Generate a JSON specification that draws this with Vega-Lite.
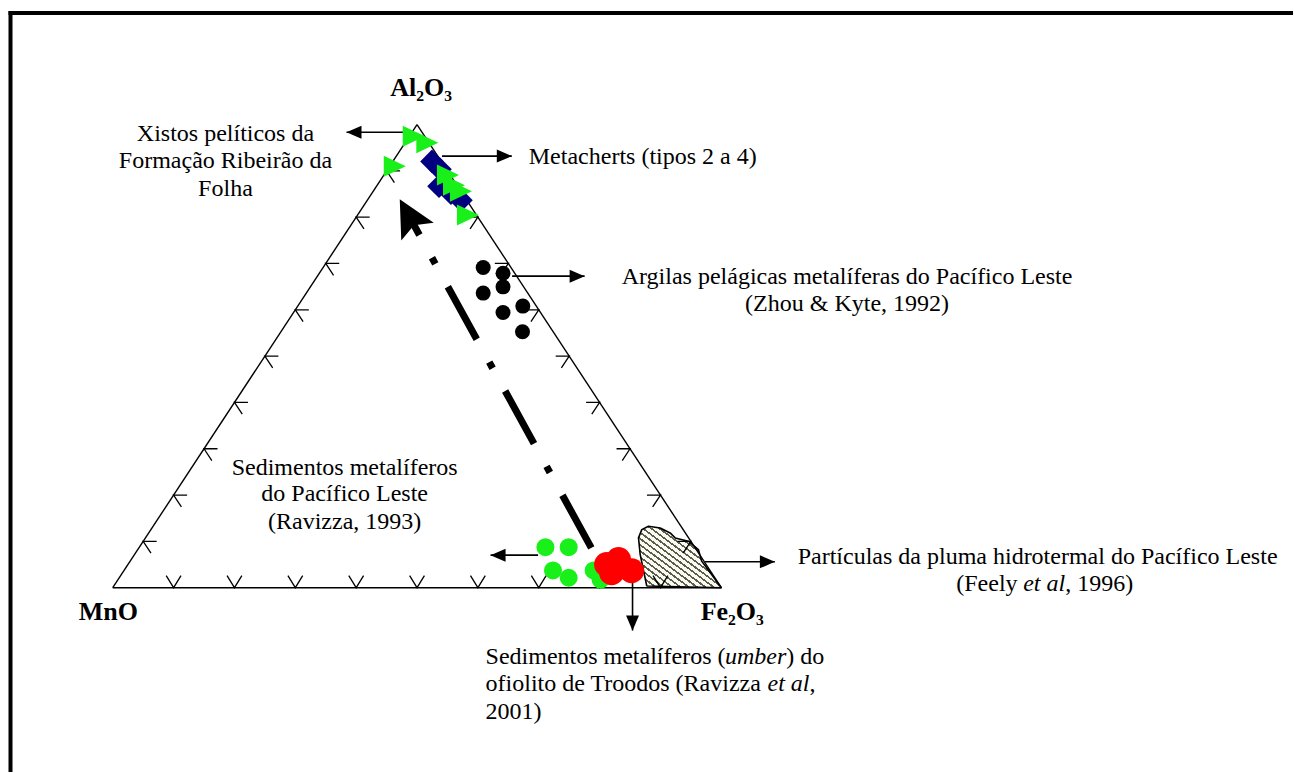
{
  "$schema": "https://vega.github.io/schema/vega-lite/v6.json",
  "width": 1294,
  "height": 773,
  "autosize": {"type": "fit", "contains": "padding"},
  "padding": 0,
  "background": "white",
  "config": {"view": {"stroke": null}},
  "datasets": {
    "frame": [
      {"x": -16.8, "y": 124.09, "x2": 193.607, "y2": 124.09},
      {"x": -16.8, "y": 124.09, "x2": -16.8, "y2": -39.355}
    ],
    "edges": [
      {"x": 0, "y": 0, "x2": 100, "y2": 0},
      {"x": 100, "y": 0, "x2": 50, "y2": 100},
      {"x": 50, "y": 100, "x2": 0, "y2": 0}
    ],
    "ticks": [
      {"x": 10, "y": 0, "side": "b"}, {"x": 20, "y": 0, "side": "b"}, {"x": 30, "y": 0, "side": "b"},
      {"x": 40, "y": 0, "side": "b"}, {"x": 50, "y": 0, "side": "b"}, {"x": 60, "y": 0, "side": "b"},
      {"x": 70, "y": 0, "side": "b"}, {"x": 80, "y": 0, "side": "b"}, {"x": 90, "y": 0, "side": "b"},
      {"x": 5, "y": 10, "side": "l"}, {"x": 10, "y": 20, "side": "l"}, {"x": 15, "y": 30, "side": "l"},
      {"x": 20, "y": 40, "side": "l"}, {"x": 25, "y": 50, "side": "l"}, {"x": 30, "y": 60, "side": "l"},
      {"x": 35, "y": 70, "side": "l"}, {"x": 40, "y": 80, "side": "l"}, {"x": 45, "y": 90, "side": "l"},
      {"x": 95, "y": 10, "side": "r"}, {"x": 90, "y": 20, "side": "r"}, {"x": 85, "y": 30, "side": "r"},
      {"x": 80, "y": 40, "side": "r"}, {"x": 75, "y": 50, "side": "r"}, {"x": 70, "y": 60, "side": "r"},
      {"x": 65, "y": 70, "side": "r"}, {"x": 60, "y": 80, "side": "r"}, {"x": 55, "y": 90, "side": "r"}
    ],
    "hatch": [
      {"i": 0, "x": 87.75, "y": 0.37}, {"i": 1, "x": 86.67, "y": 7.16}, {"i": 2, "x": 86.39, "y": 10.75},
      {"i": 3, "x": 86.93, "y": 12.54}, {"i": 4, "x": 88.03, "y": 13.27}, {"i": 5, "x": 89.95, "y": 12.9},
      {"i": 6, "x": 91.59, "y": 11.83}, {"i": 7, "x": 92.41, "y": 10.75}, {"i": 8, "x": 94.59, "y": 10.04},
      {"i": 9, "x": 96.23, "y": 8.24}, {"i": 10, "x": 96.77, "y": 5.74}, {"i": 11, "x": 97.59, "y": 4.3},
      {"i": 12, "x": 100, "y": 0}, {"i": 13, "x": 87.75, "y": 0.37}
    ],
    "trend": [{"x": 78.64, "y": 8.6, "x2": 49.1, "y2": 79.25}],
    "trendhead": [{"x": 47.16, "y": 83.87}],
    "arrows": [
      {"x": 48.2, "y": 98.34, "x2": 38.41, "y2": 98.34, "dir": "left"},
      {"x": 54.1, "y": 93.18, "x2": 65.57, "y2": 93.18, "dir": "right"},
      {"x": 65.62, "y": 67.26, "x2": 77.54, "y2": 67.26, "dir": "right"},
      {"x": 69.89, "y": 7.03, "x2": 62.08, "y2": 7.03, "dir": "left"},
      {"x": 97.33, "y": 5.59, "x2": 108.8, "y2": 5.59, "dir": "right"},
      {"x": 85.41, "y": 1.44, "x2": 85.41, "y2": -9.25, "dir": "down"}
    ],
    "black": [
      {"x": 60.87, "y": 69.14}, {"x": 64.13, "y": 67.89}, {"x": 60.87, "y": 63.61},
      {"x": 64.13, "y": 64.95}, {"x": 64.13, "y": 59.42}, {"x": 67.38, "y": 60.8},
      {"x": 67.33, "y": 55.27}
    ],
    "navy": [
      {"x": 52.46, "y": 92.04}, {"x": 53.77, "y": 90.32}, {"x": 53.61, "y": 86.67},
      {"x": 55.57, "y": 85.16}, {"x": 57.21, "y": 83.66}
    ],
    "greentri": [
      {"x": 49.46, "y": 97.48}, {"x": 51.69, "y": 96.06}, {"x": 46.34, "y": 90.97},
      {"x": 55.08, "y": 89.1}, {"x": 56.07, "y": 86.88}, {"x": 57.21, "y": 85.59},
      {"x": 58.36, "y": 80.49}
    ],
    "greencirc": [
      {"x": 71.1, "y": 8.75}, {"x": 74.92, "y": 8.75}, {"x": 72.34, "y": 3.72},
      {"x": 74.92, "y": 2.15}, {"x": 79.02, "y": 3.72}, {"x": 80.16, "y": 1.72}
    ],
    "red": [
      {"x": 81.15, "y": 5.01}, {"x": 83.11, "y": 6.09}, {"x": 85.25, "y": 3.66}, {"x": 81.97, "y": 3.23}
    ],
    "boldlabels": [
      {"x": 50.66, "y": 106.24, "text": "Al₂O₃"},
      {"x": -0.74, "y": -6.88, "text": "MnO"},
      {"x": 101.8, "y": -6.88, "text": "Fe₂O₃"}
    ],
    "centertext": [
      {"x": 18.52, "y": 96.41, "text": "Xistos pelíticos da"},
      {"x": 18.52, "y": 90.54, "text": "Formação Ribeirão da"},
      {"x": 18.52, "y": 84.67, "text": "Folha"},
      {"x": 120.66, "y": 65.59, "text": "Argilas pelágicas metalíferas do Pacífico Leste"},
      {"x": 120.66, "y": 59.78, "text": "(Zhou & Kyte, 1992)"},
      {"x": 38.11, "y": 24.37, "text": "Sedimentos metalíferos"},
      {"x": 38.11, "y": 18.65, "text": "do Pacífico Leste"},
      {"x": 38.11, "y": 12.75, "text": "(Ravizza, 1993)"},
      {"x": 151.97, "y": 5.16, "text": "Partículas da pluma hidrotermal do Pacífico Leste"}
    ],
    "lefttext": [
      {"x": 68.36, "y": 91.4, "text": "Metacherts (tipos 2 a 4)"},
      {"x": 138.6, "y": -0.65, "text": "(Feely"},
      {"x": 156.5, "y": -0.65, "text": ", 1996)"},
      {"x": 61.26, "y": -16.56, "text": "Sedimentos metalíferos ("},
      {"x": 110.66, "y": -16.56, "text": ") do"},
      {"x": 61.26, "y": -22.37, "text": "ofiolito de Troodos (Ravizza"},
      {"x": 114.48, "y": -22.37, "text": ","},
      {"x": 61.26, "y": -28.32, "text": "2001)"}
    ],
    "italictext": [
      {"x": 100.61, "y": -16.56, "text": "umber"},
      {"x": 149.6, "y": -0.65, "text": "et al"},
      {"x": 107.59, "y": -22.37, "text": "et al"}
    ]
  },
  "encoding": {
    "x": {"field": "x", "type": "quantitative", "scale": {"domain": [-18.525, 193.607], "nice": false, "zero": false}, "axis": null},
    "y": {"field": "y", "type": "quantitative", "scale": {"domain": [-39.355, 126.882], "nice": false, "zero": false}, "axis": null}
  },
  "layer": [
    {
      "data": {"name": "frame"},
      "mark": {"type": "rule", "color": "black", "strokeWidth": 4, "strokeCap": "square"},
      "encoding": {"x2": {"field": "x2"}, "y2": {"field": "y2"}}
    },
    {
      "data": {"name": "hatch"},
      "mark": {
        "type": "line",
        "stroke": "black",
        "strokeWidth": 1.6,
        "strokeJoin": "round",
        "fill": {
          "gradient": "linear", "x1": 0, "y1": 1, "x2": 1, "y2": 0,
          "stops": [
            {"offset": 0, "color": "#5e5e46"}, {"offset": 0.017, "color": "#5e5e46"}, {"offset": 0.017, "color": "#fafaf5"}, {"offset": 0.05, "color": "#fafaf5"},
            {"offset": 0.05, "color": "#5e5e46"}, {"offset": 0.067, "color": "#5e5e46"}, {"offset": 0.067, "color": "#fafaf5"}, {"offset": 0.1, "color": "#fafaf5"},
            {"offset": 0.1, "color": "#5e5e46"}, {"offset": 0.117, "color": "#5e5e46"}, {"offset": 0.117, "color": "#fafaf5"}, {"offset": 0.15, "color": "#fafaf5"},
            {"offset": 0.15, "color": "#5e5e46"}, {"offset": 0.167, "color": "#5e5e46"}, {"offset": 0.167, "color": "#fafaf5"}, {"offset": 0.2, "color": "#fafaf5"},
            {"offset": 0.2, "color": "#5e5e46"}, {"offset": 0.217, "color": "#5e5e46"}, {"offset": 0.217, "color": "#fafaf5"}, {"offset": 0.25, "color": "#fafaf5"},
            {"offset": 0.25, "color": "#5e5e46"}, {"offset": 0.267, "color": "#5e5e46"}, {"offset": 0.267, "color": "#fafaf5"}, {"offset": 0.3, "color": "#fafaf5"},
            {"offset": 0.3, "color": "#5e5e46"}, {"offset": 0.317, "color": "#5e5e46"}, {"offset": 0.317, "color": "#fafaf5"}, {"offset": 0.35, "color": "#fafaf5"},
            {"offset": 0.35, "color": "#5e5e46"}, {"offset": 0.367, "color": "#5e5e46"}, {"offset": 0.367, "color": "#fafaf5"}, {"offset": 0.4, "color": "#fafaf5"},
            {"offset": 0.4, "color": "#5e5e46"}, {"offset": 0.417, "color": "#5e5e46"}, {"offset": 0.417, "color": "#fafaf5"}, {"offset": 0.45, "color": "#fafaf5"},
            {"offset": 0.45, "color": "#5e5e46"}, {"offset": 0.467, "color": "#5e5e46"}, {"offset": 0.467, "color": "#fafaf5"}, {"offset": 0.5, "color": "#fafaf5"},
            {"offset": 0.5, "color": "#5e5e46"}, {"offset": 0.517, "color": "#5e5e46"}, {"offset": 0.517, "color": "#fafaf5"}, {"offset": 0.55, "color": "#fafaf5"},
            {"offset": 0.55, "color": "#5e5e46"}, {"offset": 0.567, "color": "#5e5e46"}, {"offset": 0.567, "color": "#fafaf5"}, {"offset": 0.6, "color": "#fafaf5"},
            {"offset": 0.6, "color": "#5e5e46"}, {"offset": 0.617, "color": "#5e5e46"}, {"offset": 0.617, "color": "#fafaf5"}, {"offset": 0.65, "color": "#fafaf5"},
            {"offset": 0.65, "color": "#5e5e46"}, {"offset": 0.667, "color": "#5e5e46"}, {"offset": 0.667, "color": "#fafaf5"}, {"offset": 0.7, "color": "#fafaf5"},
            {"offset": 0.7, "color": "#5e5e46"}, {"offset": 0.717, "color": "#5e5e46"}, {"offset": 0.717, "color": "#fafaf5"}, {"offset": 0.75, "color": "#fafaf5"},
            {"offset": 0.75, "color": "#5e5e46"}, {"offset": 0.767, "color": "#5e5e46"}, {"offset": 0.767, "color": "#fafaf5"}, {"offset": 0.8, "color": "#fafaf5"},
            {"offset": 0.8, "color": "#5e5e46"}, {"offset": 0.817, "color": "#5e5e46"}, {"offset": 0.817, "color": "#fafaf5"}, {"offset": 0.85, "color": "#fafaf5"},
            {"offset": 0.85, "color": "#5e5e46"}, {"offset": 0.867, "color": "#5e5e46"}, {"offset": 0.867, "color": "#fafaf5"}, {"offset": 0.9, "color": "#fafaf5"},
            {"offset": 0.9, "color": "#5e5e46"}, {"offset": 0.917, "color": "#5e5e46"}, {"offset": 0.917, "color": "#fafaf5"}, {"offset": 0.95, "color": "#fafaf5"},
            {"offset": 0.95, "color": "#5e5e46"}, {"offset": 0.967, "color": "#5e5e46"}, {"offset": 0.967, "color": "#fafaf5"}, {"offset": 1, "color": "#fafaf5"}
          ]
        }
      },
      "encoding": {"order": {"field": "i", "type": "quantitative"}}
    },
    {
      "data": {"name": "edges"},
      "mark": {"type": "rule", "color": "black", "strokeWidth": 1.4},
      "encoding": {"x2": {"field": "x2"}, "y2": {"field": "y2"}}
    },
    {
      "data": {"name": "ticks"},
      "transform": [{"filter": "datum.side == 'b'"}],
      "mark": {"type": "point", "shape": "M-7.4,-12L0,0L7.4,-12", "size": 4, "filled": false, "stroke": "black", "strokeWidth": 1.3, "opacity": 1}
    },
    {
      "data": {"name": "ticks"},
      "transform": [{"filter": "datum.side == 'l'"}],
      "mark": {"type": "point", "shape": "M13.5,0L0,0L7.8,11.8", "size": 4, "filled": false, "stroke": "black", "strokeWidth": 1.3, "opacity": 1}
    },
    {
      "data": {"name": "ticks"},
      "transform": [{"filter": "datum.side == 'r'"}],
      "mark": {"type": "point", "shape": "M-13.5,0L0,0L-7.8,11.8", "size": 4, "filled": false, "stroke": "black", "strokeWidth": 1.3, "opacity": 1}
    },
    {
      "data": {"name": "trend"},
      "mark": {"type": "rule", "color": "black", "strokeWidth": 7, "strokeDash": [60, 26, 7, 26], "strokeCap": "butt"},
      "encoding": {"x2": {"field": "x2"}, "y2": {"field": "y2"}}
    },
    {
      "data": {"name": "trendhead"},
      "mark": {"type": "point", "shape": "M0,0L18.5,37L0,29.6L-18.5,37Z", "size": 4, "filled": true, "color": "black", "opacity": 1, "angle": 331.3}
    },
    {
      "data": {"name": "arrows"},
      "mark": {"type": "rule", "color": "black", "strokeWidth": 1.6},
      "encoding": {"x2": {"field": "x2"}, "y2": {"field": "y2"}}
    },
    {
      "data": {"name": "arrows"},
      "transform": [{"filter": "datum.dir == 'right'"}],
      "mark": {"type": "point", "shape": "M0,0L-15,-6.5L-15,6.5Z", "size": 4, "filled": true, "color": "black", "opacity": 1},
      "encoding": {"x": {"field": "x2", "type": "quantitative"}, "y": {"field": "y2", "type": "quantitative"}}
    },
    {
      "data": {"name": "arrows"},
      "transform": [{"filter": "datum.dir == 'left'"}],
      "mark": {"type": "point", "shape": "M0,0L15,-6.5L15,6.5Z", "size": 4, "filled": true, "color": "black", "opacity": 1},
      "encoding": {"x": {"field": "x2", "type": "quantitative"}, "y": {"field": "y2", "type": "quantitative"}}
    },
    {
      "data": {"name": "arrows"},
      "transform": [{"filter": "datum.dir == 'down'"}],
      "mark": {"type": "point", "shape": "M0,0L-6.5,-15L6.5,-15Z", "size": 4, "filled": true, "color": "black", "opacity": 1},
      "encoding": {"x": {"field": "x2", "type": "quantitative"}, "y": {"field": "y2", "type": "quantitative"}}
    },
    {
      "data": {"name": "black"},
      "mark": {"type": "point", "shape": "circle", "size": 225, "filled": true, "color": "black", "opacity": 1}
    },
    {
      "data": {"name": "navy"},
      "mark": {"type": "point", "shape": "diamond", "size": 560, "filled": true, "color": "#000080", "opacity": 1}
    },
    {
      "data": {"name": "greentri"},
      "mark": {"type": "point", "shape": "M11,0L-11,-10.5L-11,10.5Z", "size": 4, "filled": true, "color": "#19f019", "opacity": 1}
    },
    {
      "data": {"name": "greencirc"},
      "mark": {"type": "point", "shape": "circle", "size": 324, "filled": true, "color": "#19f019", "opacity": 1}
    },
    {
      "data": {"name": "red"},
      "mark": {"type": "point", "shape": "circle", "size": 625, "filled": true, "color": "#ff0000", "opacity": 1}
    },
    {
      "data": {"name": "boldlabels"},
      "mark": {"type": "text", "font": "Liberation Serif", "fontSize": 26, "fontWeight": "bold", "align": "center", "baseline": "alphabetic", "color": "black"},
      "encoding": {"text": {"field": "text"}}
    },
    {
      "data": {"name": "centertext"},
      "mark": {"type": "text", "font": "Liberation Serif", "fontSize": 24, "align": "center", "baseline": "alphabetic", "color": "black"},
      "encoding": {"text": {"field": "text"}}
    },
    {
      "data": {"name": "lefttext"},
      "mark": {"type": "text", "font": "Liberation Serif", "fontSize": 24, "align": "left", "baseline": "alphabetic", "color": "black"},
      "encoding": {"text": {"field": "text"}}
    },
    {
      "data": {"name": "italictext"},
      "mark": {"type": "text", "font": "Liberation Serif", "fontSize": 24, "fontStyle": "italic", "align": "left", "baseline": "alphabetic", "color": "black"},
      "encoding": {"text": {"field": "text"}}
    }
  ]
}
